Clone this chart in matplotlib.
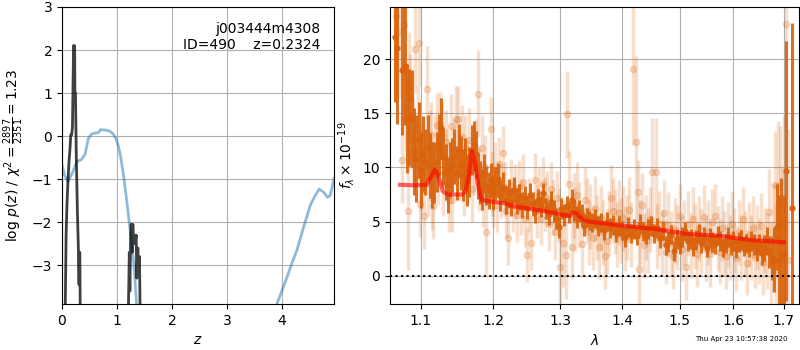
import numpy as np
import matplotlib
matplotlib.use('Agg')
import matplotlib.pyplot as plt
from matplotlib.ticker import ScalarFormatter, NullLocator, NullFormatter

# ---- redshift fit: chi2-based p(z) (light curve) and refined log p(z) (dark) ----
z_coarse = [0.0, 0.05, 0.11, 0.19, 0.27, 0.35, 0.42, 0.48, 0.54, 0.60, 0.66, 0.70,
            0.80, 0.88, 0.93, 0.98, 1.03, 1.07, 1.13, 1.19, 1.25, 1.31, 1.36, 1.45,
            2.0, 3.0, 3.7, 3.91, 4.06, 4.17, 4.28, 4.40, 4.52, 4.60, 4.68, 4.76,
            4.83, 4.88, 4.95, 5.02]
lnp_coarse = [-0.67, -0.92, -1.05, -0.85, -0.59, -0.55, -0.42, -0.05, 0.05, 0.07,
              0.08, 0.15, 0.14, 0.11, 0.05, -0.05, -0.25, -0.5, -1.0, -1.63, -2.3,
              -3.0, -3.95, -5.5, -9.0, -9.0, -5.5, -3.9, -3.4, -3.0, -2.63, -2.1,
              -1.6, -1.4, -1.23, -1.3, -1.42, -1.38, -1.0, -0.8]

z_fine = [0.03, 0.06, 0.075, 0.09, 0.11, 0.13, 0.145, 0.16, 0.175, 0.19, 0.20,
          0.21, 0.215, 0.225, 0.23, 0.235, 0.245, 0.26, 0.28, 0.30, 0.31, 0.315,
          0.325, 0.34,
          1.18, 1.21, 1.225, 1.235, 1.25, 1.26, 1.275, 1.29, 1.30, 1.32, 1.33,
          1.35, 1.36, 1.38, 1.39, 1.41, 1.42, 1.45]
lnp_fine = [-6.0, -3.9, -2.26, -1.6, -1.0, -0.55, -0.3, 0.03, 0.03, 0.2, 1.1,
            2.1, 1.0, 2.1, 2.1, 1.0, 1.0, -0.45, -1.75, -2.7, -3.45, -2.7,
            -2.7, -6.0,
            -6.0, -3.9, -2.7, -3.6, -2.3, -2.05, -2.7, -2.05, -2.4, -2.3, -2.5,
            -2.3, -3.3, -2.6, -3.1, -2.8, -3.9, -6.0]

# ---- spectrum: binned (dark) and unbinned (light) fluxes, x 1e-19 ----
lam_bin = [1.066, 1.069, 1.076, 1.079, 1.082, 1.085, 1.088, 1.091, 1.094,
           1.097, 1.100, 1.103, 1.106, 1.109, 1.112, 1.115, 1.118, 1.121, 1.124,
           1.127, 1.130, 1.133, 1.136, 1.139, 1.142, 1.145, 1.148, 1.151, 1.154,
           1.157, 1.160, 1.163, 1.166, 1.169, 1.172, 1.175, 1.178, 1.181, 1.184,
           1.187, 1.190, 1.193, 1.196, 1.199, 1.202, 1.206, 1.210, 1.214, 1.218,
           1.222, 1.226, 1.230, 1.234, 1.238, 1.242, 1.246, 1.250, 1.254, 1.258,
           1.262, 1.266, 1.270, 1.274, 1.278, 1.282, 1.286, 1.290, 1.294, 1.298,
           1.302, 1.306, 1.310, 1.314, 1.318, 1.322, 1.326, 1.330, 1.334, 1.338,
           1.342, 1.346, 1.350, 1.355, 1.360, 1.365, 1.370, 1.375, 1.380, 1.385,
           1.390, 1.395, 1.400, 1.405, 1.410, 1.415, 1.420, 1.425, 1.430, 1.435,
           1.440, 1.445, 1.450, 1.455, 1.460, 1.465, 1.470, 1.475, 1.480, 1.485,
           1.490, 1.495, 1.500, 1.505, 1.510, 1.515, 1.520, 1.525, 1.530, 1.535,
           1.540, 1.545, 1.550, 1.555, 1.560, 1.565, 1.570, 1.575, 1.580, 1.585,
           1.590, 1.595, 1.600, 1.605, 1.610, 1.615, 1.620, 1.625, 1.630, 1.635,
           1.640, 1.645, 1.650, 1.655, 1.660, 1.665, 1.670, 1.675, 1.680, 1.685,
           1.690, 1.695, 1.700, 1.705, 1.716]
flux_bin = [22.0, 21.0, 19.0, 19.4, 14.5, 14.6, 14.5, 11.5, 10.8, 12.5,
            9.8, 11.2, 10.5, 11.8, 10.2, 9.3, 9.5, 10.5, 12.1, 13.6,
            11.0, 9.6, 8.4, 9.8, 10.2, 11.0, 9.5, 11.5, 10.4, 9.3,
            10.3, 8.8, 9.6, 11.6, 12.0, 11.2, 9.2, 8.6, 8.0, 9.4,
            8.3, 7.9, 8.8, 7.7, 8.5, 8.9, 7.4, 8.2, 7.0, 7.6,
            6.8, 7.9, 6.9, 7.3, 6.5, 7.2, 6.3, 7.5, 6.6, 6.0,
            7.0, 6.4, 7.6, 6.2, 5.7, 6.8, 6.0, 5.3, 4.5, 6.2,
            5.6, 6.4, 5.9, 7.0, 6.1, 5.4, 6.0, 5.6, 4.6, 5.4,
            5.1, 4.9, 5.3, 4.6, 4.9, 4.2, 5.0, 4.4, 4.7, 4.0,
            4.6, 4.2, 3.6, 4.5, 3.9, 4.3, 3.7, 4.8, 4.1, 3.8,
            4.3, 4.6, 3.9, 4.4, 3.5, 4.2, 2.8, 3.1, 3.8, 2.3,
            3.4, 2.9, 3.6, 4.1, 3.2, 3.4, 2.7, 3.3, 3.9, 3.0,
            3.6, 2.6, 3.5, 3.1, 2.9, 3.7, 3.2, 2.6, 3.0, 3.6,
            2.8, 3.2, 2.5, 3.1, 3.3, 2.7, 3.0, 2.6, 3.2, 2.9,
            2.4, 2.9, 2.1, 2.6, 3.2, 2.2, 1.6, 1.5, 4.5, 1.5,
            3.0, 2.0, 9.7, 6.3]
err_bin = [6.0, 7.0, 6.0, 5.5, 5.0, 4.5, 4.5, 4.0, 4.0, 3.5,
           3.5, 3.5, 3.0, 3.0, 3.0, 3.0, 2.8, 2.8, 2.8, 2.8,
           2.6, 2.6, 2.6, 2.5, 2.5, 2.5, 2.5, 2.5, 2.5, 2.4,
           2.4, 2.4, 2.3, 2.3, 2.3, 2.2, 2.1, 2.0, 1.9, 1.8,
           1.8, 1.7, 1.6, 1.6, 1.5, 1.5, 1.4, 1.4, 1.3, 1.3,
           1.3, 1.2, 1.2, 1.2, 1.2, 1.1, 1.1, 1.1, 1.1, 1.1,
           1.0, 1.0, 1.0, 1.0, 1.0, 1.0, 1.0, 1.0, 1.0, 1.0,
           1.0, 1.0, 1.0, 1.0, 1.0, 1.0, 1.0, 1.0, 0.9, 0.9,
           0.9, 0.9, 0.9, 0.9, 0.9, 0.9, 0.9, 0.9, 0.9, 0.9,
           0.9, 0.9, 0.9, 0.9, 0.9, 0.9, 0.9, 0.9, 0.9, 0.9,
           0.9, 0.9, 0.9, 0.9, 0.9, 0.9, 0.9, 0.9, 0.9, 0.9,
           0.9, 0.9, 0.9, 0.9, 0.9, 0.9, 0.9, 0.9, 0.9, 0.9,
           0.9, 0.9, 0.9, 0.9, 0.9, 0.9, 0.9, 0.9, 0.9, 0.9,
           0.9, 0.9, 0.9, 0.9, 0.9, 0.9, 0.9, 0.9, 0.9, 1.0,
           1.0, 1.0, 1.1, 1.2, 1.3, 1.5, 2.0, 3.0, 4.0, 6.0,
           6.0, 5.5, 12.0, 17.0]

lam_raw = [1.068, 1.072, 1.076, 1.078, 1.080, 1.083, 1.084, 1.086, 1.090, 1.092,
           1.097, 1.096, 1.099, 1.100, 1.104, 1.108, 1.110, 1.112, 1.113, 1.115,
           1.116, 1.119, 1.121, 1.123, 1.125, 1.128, 1.130, 1.133, 1.135, 1.138,
           1.140, 1.142, 1.145, 1.147, 1.150, 1.152, 1.155, 1.158, 1.160, 1.163,
           1.166, 1.169, 1.172, 1.175, 1.178, 1.180, 1.183, 1.185, 1.188, 1.190,
           1.196, 1.198, 1.199, 1.202, 1.205, 1.208, 1.211, 1.214, 1.217, 1.218,
           1.221, 1.226, 1.229, 1.232, 1.235, 1.238, 1.241, 1.244, 1.247, 1.250,
           1.253, 1.256, 1.262, 1.265, 1.268, 1.271, 1.274, 1.277, 1.280, 1.283,
           1.286, 1.289, 1.292, 1.295, 1.298, 1.300, 1.305, 1.309, 1.311, 1.314,
           1.318, 1.321, 1.324, 1.327, 1.330, 1.335, 1.339, 1.342, 1.345, 1.348,
           1.352, 1.355, 1.358, 1.362, 1.365, 1.368, 1.371, 1.375, 1.378, 1.381,
           1.385, 1.388, 1.392, 1.395, 1.398, 1.402, 1.405, 1.408, 1.412, 1.415,
           1.419, 1.423, 1.427, 1.428, 1.431, 1.434, 1.437, 1.441, 1.445, 1.448,
           1.452, 1.458, 1.460, 1.464, 1.468, 1.472, 1.476, 1.480, 1.484, 1.488,
           1.492, 1.496, 1.500, 1.504, 1.508, 1.512, 1.516, 1.520, 1.524, 1.528,
           1.532, 1.536, 1.540, 1.544, 1.548, 1.552, 1.556, 1.560, 1.566, 1.570,
           1.574, 1.578, 1.582, 1.586, 1.590, 1.594, 1.598, 1.602, 1.606, 1.610,
           1.614, 1.618, 1.622, 1.626, 1.630, 1.634, 1.638, 1.642, 1.646, 1.650,
           1.654, 1.658, 1.662, 1.666, 1.670, 1.674, 1.678, 1.681, 1.684, 1.688,
           1.692, 1.696, 1.700, 1.705, 1.708]
flux_raw = [24.0, 22.5, 10.7, 23.1, 15.5, 6.0, 17.5, 16.5, 12.5, 20.9,
            21.5, 13.5, 6.6, 9.0, 5.5, 17.2, 8.5, 12.3, 13.0, 7.2,
            6.4, 11.8, 13.9, 9.5, 14.0, 13.0, 8.5, 12.3, 10.5, 7.0,
            13.8, 7.0, 11.5, 14.5, 14.5, 10.0, 12.8, 8.5, 11.8, 9.5,
            12.5, 8.0, 10.5, 11.5, 16.8, 9.0, 11.8, 7.5, 10.0, 4.0,
            13.5, 8.5, 7.5, 9.8, 6.5, 10.3, 7.8, 11.3, 8.0, 6.0,
            3.5, 8.3, 6.5, 7.8, 5.6, 8.2, 6.3, 8.7, 5.2, 1.9,
            6.5, 3.0, 8.8, 6.0, 7.5, 5.3, 8.5, 6.6, 7.2, 4.8,
            8.0, 6.3, 4.0, 7.2, 5.6, 0.8, 3.0, 1.9, 14.9, 8.5,
            2.7, 6.5, 5.2, 7.5, 5.7, 2.9, 7.0, 6.0, 4.0, 5.5,
            3.5, 6.2, 4.5, 2.7, 5.3, 4.0, 1.8, 3.2, 4.8, 7.2,
            6.0, 5.0, 3.8, 5.8, 4.2, 5.3, 3.4, 4.5, 6.1, 3.8,
            19.1, 12.3, 7.7, 0.6, 4.0, 6.5, 2.8, 4.5, 3.3, 5.2,
            9.6, 9.6, 3.6, 4.8, 3.1, 5.8, 2.2, 4.7, 3.0, 1.8,
            4.2, 3.5, 5.5, 2.5, 4.0, 0.8, 4.8, 2.8, 5.2, 3.6,
            2.0, 4.4, 3.2, 5.4, 2.5, 4.0, 2.0, 5.0, 5.5, 3.4,
            2.2, 4.4, 3.0, 1.8, 3.8, 2.6, 4.8, 3.3, 1.6, 4.0,
            2.6, 5.2, 3.0, 1.2, 3.8, 2.6, 4.4, 1.9, 3.5, 2.2,
            4.6, 1.2, 3.3, 2.3, 5.9, 1.0, 3.5, 8.4, 0.5, 8.3,
            6.8, 2.0, 4.8, 23.2, 1.5]
err_raw = [8.0, 6.0, 4.0, 5.0, 4.0, 5.5, 5.0, 4.0, 4.0, 4.0,
           4.0, 4.0, 3.0, 3.0, 3.0, 4.0, 3.0, 3.0, 3.0, 3.0,
           3.0, 3.0, 3.0, 3.0, 3.0, 3.0, 3.0, 3.0, 3.0, 3.0,
           3.0, 3.0, 3.0, 3.0, 3.0, 3.0, 3.0, 3.0, 3.0, 3.0,
           3.0, 3.0, 3.0, 3.0, 4.0, 3.0, 3.0, 3.0, 3.0, 4.0,
           3.0, 3.0, 3.0, 2.5, 2.5, 2.5, 2.5, 2.5, 2.5, 2.5,
           2.5, 2.5, 2.5, 2.5, 2.5, 2.5, 2.5, 2.5, 2.5, 2.5,
           2.5, 2.5, 2.5, 2.5, 2.5, 2.5, 2.5, 2.5, 2.5, 2.5,
           2.5, 2.5, 2.5, 2.5, 2.5, 4.0, 4.0, 4.0, 4.0, 3.0,
           3.0, 3.0, 3.0, 3.0, 3.0, 3.0, 3.0, 3.0, 3.0, 3.0,
           3.0, 3.0, 3.0, 3.0, 3.0, 3.0, 3.0, 3.0, 3.0, 3.0,
           3.0, 3.0, 3.0, 3.0, 3.0, 3.0, 3.0, 3.0, 3.0, 3.0,
           7.0, 8.0, 3.0, 4.0, 3.0, 3.0, 3.0, 3.0, 3.0, 3.0,
           5.0, 5.0, 3.0, 3.0, 3.0, 3.0, 3.0, 3.0, 3.0, 3.0,
           3.0, 3.0, 3.0, 3.0, 3.0, 3.0, 3.0, 3.0, 3.0, 3.0,
           3.0, 3.0, 3.0, 3.0, 3.0, 3.0, 3.0, 3.0, 3.0, 3.0,
           3.0, 3.0, 3.0, 3.0, 3.0, 3.0, 3.0, 3.0, 3.0, 3.0,
           3.0, 3.0, 3.0, 3.0, 3.0, 3.0, 3.0, 3.0, 3.0, 3.0,
           3.0, 3.0, 3.0, 3.5, 4.0, 4.0, 5.0, 5.0, 6.0, 6.0,
           7.0, 8.0, 10.0, 10.0, 12.0]

# best-fit model continuum + lines
lam_model = [1.0727, 1.0903, 1.1075, 1.1140, 1.1184, 1.1228, 1.1294, 1.1360,
             1.1560, 1.1606, 1.1650, 1.1694, 1.1740, 1.1785, 1.1830, 1.1970,
             1.2155, 1.2295, 1.2480, 1.2907, 1.3153, 1.3200, 1.3250, 1.3350,
             1.3457, 1.3883, 1.4590, 1.5146, 1.5730, 1.6343, 1.7000]
flux_model = [8.4, 8.35, 8.4, 9.2, 9.8, 9.3, 7.8, 7.5,
              7.5, 7.8, 9.2, 11.5, 10.4, 8.2, 7.0, 6.85,
              6.7, 6.4, 6.25, 5.8, 5.5, 5.8, 5.8, 5.2,
              5.0, 4.7, 4.3, 3.85, 3.7, 3.3, 3.1]

lam_ticks = [1.1, 1.2, 1.3, 1.4, 1.5, 1.6, 1.7]

spec_color = '#d9620b'

fig = plt.figure(figsize=(8, 3.5), dpi=100)

# ============================================================
# left: p(z)
# ============================================================
ax = fig.add_axes([0.0775, 0.1314, 0.34, 0.8486])
ax.plot(z_coarse, lnp_coarse, color='tab:blue', alpha=0.5, linewidth=2)
ax.plot(z_fine, lnp_fine, color='k', alpha=0.75, linewidth=2)
ax.set_xlim(0, 4.95)
ax.set_ylim(-3.9, 3)
ax.set_xticks([0, 1, 2, 3, 4])
ax.set_yticks([-3, -2, -1, 0, 1, 2, 3])
ax.grid()
ax.set_xlabel(r'$z$')
ax.set_ylabel(r'$\log\,p(z)$' + ' / ' + r'$\chi^2=\frac{2897}{2351}=1.23$')
ax.text(0.95, 0.95, 'j003444m4308\nID=490    z=0.2324',
        ha='right', va='top', transform=ax.transAxes, fontsize=10)

# ============================================================
# right: 1D spectrum
# ============================================================
ax2 = fig.add_axes([0.4875, 0.1314, 0.51125, 0.8486])
ax2.errorbar(lam_raw, flux_raw, yerr=err_raw, color=spec_color, alpha=0.2,
             marker='o', markersize=4.5, linestyle='None', elinewidth=2.5, capsize=0)
ax2.errorbar(lam_bin, flux_bin, yerr=err_bin, color=spec_color, alpha=0.9,
             marker='o', markersize=3.5, linestyle='None', elinewidth=2.2, capsize=0)
ax2.plot(lam_model, flux_model, color='r', alpha=0.6, linewidth=3, zorder=5)
ax2.axhline(0, color='k', linestyle=':', linewidth=1.5)

ax2.set_xscale('log')
ax2.set_xlim(1.06, 1.731)
ax2.set_ylim(-2.6, 24.8)
ax2.set_xticks(lam_ticks)
ax2.xaxis.set_major_formatter(ScalarFormatter())
ax2.xaxis.set_minor_locator(NullLocator())
ax2.xaxis.set_minor_formatter(NullFormatter())
ax2.set_yticks([0, 5, 10, 15, 20])
ax2.grid()
ax2.set_axisbelow(True)
ax2.set_xlabel(r'$\lambda$')
ax2.set_ylabel(r'$f_\lambda\times10^{-19}$')

fig.text(0.984, 0.03, 'Thu Apr 23 10:57:38 2020', ha='right', va='center', fontsize=5)

plt.savefig('out.png', dpi=100)
